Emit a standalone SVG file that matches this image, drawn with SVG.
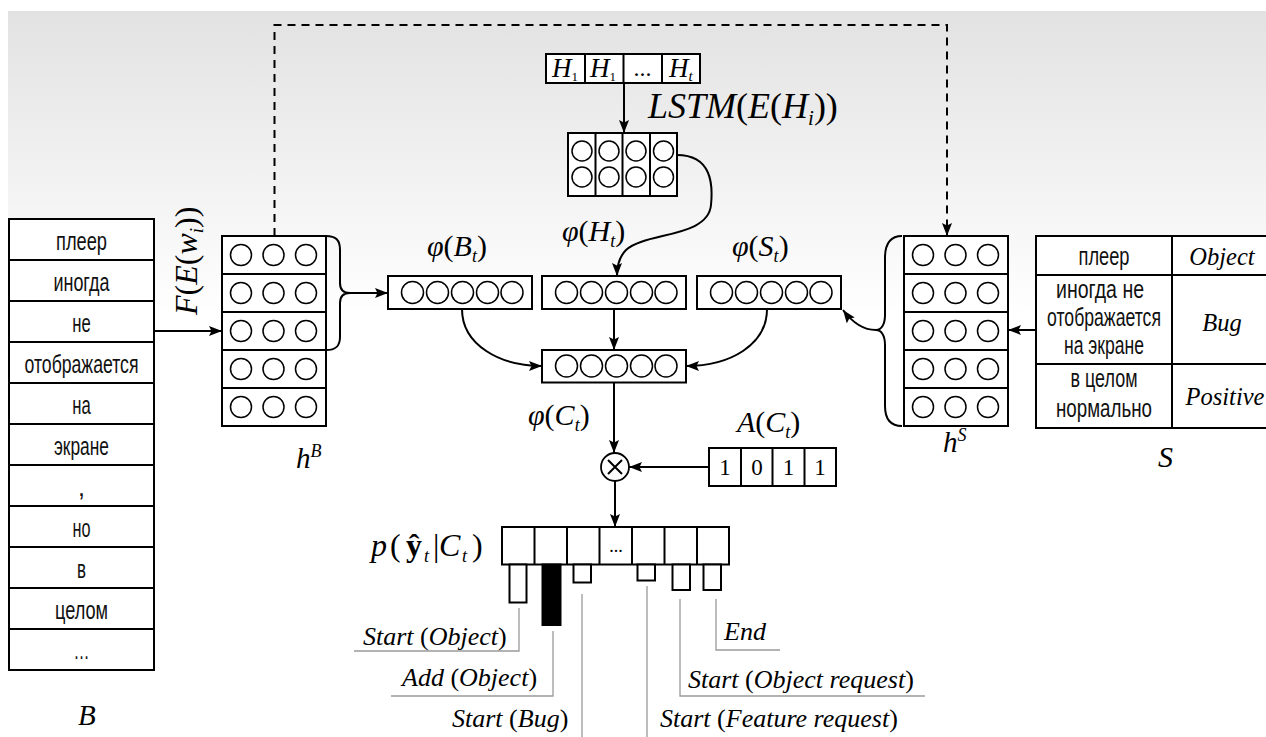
<svg xmlns="http://www.w3.org/2000/svg" width="1266" height="737" viewBox="0 0 1266 737">
<defs>
<linearGradient id="bg" x1="0" y1="0" x2="0" y2="1">
<stop offset="0" stop-color="#e2e2e2"/>
<stop offset="0.42" stop-color="#ffffff"/>
<stop offset="1" stop-color="#ffffff"/>
</linearGradient>
<marker id="ah" viewBox="0 0 13 10" refX="13" refY="5" markerWidth="13" markerHeight="10" markerUnits="userSpaceOnUse" orient="auto">
<path d="M0,0 L13,5 L0,10 L2.5,5 z" fill="#000"/>
</marker>
<style>
.box{fill:#fff;stroke:#000;stroke-width:2}
.ln{fill:none;stroke:#000;stroke-width:2}
.cir{fill:#fff;stroke:#000;stroke-width:1.5}
.con{fill:none;stroke:#000;stroke-width:2}
.lead{fill:none;stroke:#9a9a9a;stroke-width:1.3}
.cy{font-family:"Liberation Sans",Arial,sans-serif;font-size:25px;fill:#111;text-anchor:middle}
.m{font-family:"Liberation Serif","Times New Roman",serif;font-style:italic;fill:#000}
.r{font-style:normal}
</style>
</defs>
<rect x="8" y="11" width="1258" height="726" fill="url(#bg)"/>

<g id="connectors">
<path class="con" d="M154,331 H222" marker-end="url(#ah)"/>
<path class="con" d="M350,293 H388" marker-end="url(#ah)"/>
<path class="con" d="M624,83 V133" marker-end="url(#ah)"/>
<path class="con" d="M677,155 C712,155 713,185 711,205 C708,238 645,232 626,250 C619,257 617,265 617,276" marker-end="url(#ah)"/>
<path class="con" d="M614,309 V350" marker-end="url(#ah)"/>
<path class="con" d="M462,309 C462,345 500,366 542,366" marker-end="url(#ah)"/>
<path class="con" d="M767,309 C767,345 730,366 686,366" marker-end="url(#ah)"/>
<path class="con" d="M614,382 V453" marker-end="url(#ah)"/>
<path class="con" d="M709,467 H629" marker-end="url(#ah)"/>
<path class="con" d="M615,481 V527" marker-end="url(#ah)"/>
<path class="con" d="M876,330 C862,330 852,322 843,310" marker-end="url(#ah)"/>
<path class="con" d="M1036,330 H1008" marker-end="url(#ah)"/>
<path class="con" d="M274.5,236 V25 H947 V236" stroke-dasharray="8,6" marker-end="url(#ah)"/>
<path class="lead" d="M519,608 V651 H354"/>
<path class="lead" d="M553,631 V696 H391"/>
<path class="lead" d="M582,594 V737"/>
<path class="lead" d="M647,586 V737"/>
<path class="lead" d="M680,599 V696 H925"/>
<path class="lead" d="M716,599 V650 H780"/>
</g>

<g id="B-table">
<rect class="box" x="9" y="219" width="145" height="451"/>
<path class="ln" d="M9,260 H154 M9,301 H154 M9,342 H154 M9,383 H154 M9,424 H154 M9,465 H154 M9,506 H154 M9,547 H154 M9,588 H154 M9,629 H154"/>
<text class="cy" x="81.5" y="250" textLength="51" lengthAdjust="spacingAndGlyphs">плеер</text>
<text class="cy" x="81.5" y="291" textLength="56" lengthAdjust="spacingAndGlyphs">иногда</text>
<text class="cy" x="81.5" y="332" textLength="18.5" lengthAdjust="spacingAndGlyphs">не</text>
<text class="cy" x="81.5" y="373" textLength="114" lengthAdjust="spacingAndGlyphs">отображается</text>
<text class="cy" x="81.5" y="414" textLength="18.5" lengthAdjust="spacingAndGlyphs">на</text>
<text class="cy" x="81.5" y="455" textLength="55" lengthAdjust="spacingAndGlyphs">экране</text>
<text class="cy" x="81.5" y="496">,</text>
<text class="cy" x="81.5" y="537" textLength="18" lengthAdjust="spacingAndGlyphs">но</text>
<text class="cy" x="81.5" y="578" textLength="9" lengthAdjust="spacingAndGlyphs">в</text>
<text class="cy" x="81.5" y="619" textLength="53" lengthAdjust="spacingAndGlyphs">целом</text>
<text class="cy" x="81.5" y="659" textLength="16" lengthAdjust="spacingAndGlyphs">…</text>
<text class="m" x="78" y="725" font-size="29">B</text>
</g>

<text class="m" font-size="32" transform="translate(197,315) rotate(-90)">F<tspan class="r">(</tspan>E<tspan class="r">(</tspan>w<tspan font-size="19" dy="6">i</tspan><tspan class="r" dy="-6">))</tspan></text>

<g id="hB">
<rect class="box" x="222" y="236" width="104" height="190"/>
<path class="ln" d="M222,274 H326 M222,312 H326 M222,350 H326 M222,388 H326"/>
<g class="cir">
<circle cx="241" cy="255" r="10.5"/><circle cx="273.5" cy="255" r="10.5"/><circle cx="306" cy="255" r="10.5"/>
<circle cx="241" cy="293" r="10.5"/><circle cx="273.5" cy="293" r="10.5"/><circle cx="306" cy="293" r="10.5"/>
<circle cx="241" cy="331" r="10.5"/><circle cx="273.5" cy="331" r="10.5"/><circle cx="306" cy="331" r="10.5"/>
<circle cx="241" cy="369" r="10.5"/><circle cx="273.5" cy="369" r="10.5"/><circle cx="306" cy="369" r="10.5"/>
<circle cx="241" cy="407" r="10.5"/><circle cx="273.5" cy="407" r="10.5"/><circle cx="306" cy="407" r="10.5"/>
</g>
<path class="ln" d="M326,236 C336,236 340,240 340,250 L340,283 C340,290 344,293 350,293 C344,293 340,296 340,303 L340,337 C340,346 336,350 326,350"/>
<text class="m" x="296" y="468" font-size="29">h<tspan font-size="18" dy="-11">B</tspan></text>
</g>

<g id="H-seq">
<rect class="box" x="546" y="54" width="154" height="29"/>
<path class="ln" d="M585,54 V83 M623.5,54 V83 M662,54 V83"/>
<text class="m" x="552" y="77" font-size="27">H<tspan class="r" font-size="13" dy="4">1</tspan></text>
<text class="m" x="590" y="77" font-size="27">H<tspan class="r" font-size="13" dy="4">1</tspan></text>
<text class="m r" x="642.5" y="76" font-size="24" text-anchor="middle">...</text>
<text class="m" x="669" y="77" font-size="27">H<tspan font-size="15" dy="4">t</tspan></text>
</g>

<g id="LSTM">
<rect class="box" x="568" y="133" width="109" height="63"/>
<path class="ln" d="M595.5,133 V196 M622.5,133 V196 M650,133 V196"/>
<g class="cir">
<circle cx="582" cy="151" r="10"/><circle cx="609" cy="151" r="10"/><circle cx="636" cy="151" r="10"/><circle cx="663.5" cy="151" r="10"/>
<circle cx="582" cy="177" r="10"/><circle cx="609" cy="177" r="10"/><circle cx="636" cy="177" r="10"/><circle cx="663.5" cy="177" r="10"/>
</g>
<text class="m" x="648" y="118" font-size="36">LSTM<tspan class="r">(</tspan>E<tspan class="r">(</tspan>H<tspan font-size="21" dy="7">i</tspan><tspan class="r" dy="-7">))</tspan></text>
</g>

<g id="phiB">
<rect class="box" x="388" y="276" width="144" height="33"/>
<g class="cir"><circle cx="412.5" cy="292.5" r="11"/><circle cx="437.5" cy="292.5" r="11"/><circle cx="462.5" cy="292.5" r="11"/><circle cx="487.5" cy="292.5" r="11"/><circle cx="512" cy="292.5" r="11"/></g>
<text class="m" x="427" y="256" font-size="30">φ<tspan class="r">(</tspan>B<tspan font-size="18" dy="6">t</tspan><tspan class="r" dy="-6">)</tspan></text>
</g>

<g id="phiH">
<rect class="box" x="542" y="276" width="144" height="33"/>
<g class="cir"><circle cx="566.5" cy="292.5" r="11"/><circle cx="591.5" cy="292.5" r="11"/><circle cx="616.5" cy="292.5" r="11"/><circle cx="641.5" cy="292.5" r="11"/><circle cx="666" cy="292.5" r="11"/></g>
<text class="m" x="562" y="241" font-size="30">φ<tspan class="r">(</tspan>H<tspan font-size="18" dy="6">t</tspan><tspan class="r" dy="-6">)</tspan></text>
</g>

<g id="phiS">
<rect class="box" x="697" y="276" width="144" height="33"/>
<g class="cir"><circle cx="721.5" cy="292.5" r="11"/><circle cx="746.5" cy="292.5" r="11"/><circle cx="771.5" cy="292.5" r="11"/><circle cx="796.5" cy="292.5" r="11"/><circle cx="821" cy="292.5" r="11"/></g>
<text class="m" x="732" y="256" font-size="30">φ<tspan class="r">(</tspan>S<tspan font-size="18" dy="6">t</tspan><tspan class="r" dy="-6">)</tspan></text>
</g>

<g id="phiC">
<rect class="box" x="542" y="350" width="144" height="32.5"/>
<g class="cir"><circle cx="566.5" cy="366" r="11"/><circle cx="591.5" cy="366" r="11"/><circle cx="616.5" cy="366" r="11"/><circle cx="641.5" cy="366" r="11"/><circle cx="666" cy="366" r="11"/></g>
<text class="m" x="528" y="425" font-size="30">φ<tspan class="r">(</tspan>C<tspan font-size="18" dy="6">t</tspan><tspan class="r" dy="-6">)</tspan></text>
</g>

<g id="mult">
<circle cx="615" cy="467" r="14" fill="#fff" stroke="#000" stroke-width="1.8"/>
<path class="ln" stroke-width="1.5" d="M608,460 L622,474 M622,460 L608,474"/>
</g>

<g id="A">
<rect class="box" x="709" y="448" width="127" height="38"/>
<path class="ln" d="M741,448 V486 M772.5,448 V486 M804.5,448 V486"/>
<g class="m r" font-size="23" text-anchor="middle">
<text x="725" y="475">1</text><text x="757" y="475">0</text><text x="788.5" y="475">1</text><text x="820" y="475">1</text>
</g>
<text class="m" x="737" y="432" font-size="30">A<tspan class="r">(</tspan>C<tspan font-size="18" dy="6">t</tspan><tspan class="r" dy="-6">)</tspan></text>
</g>

<g id="output">
<rect class="box" x="502" y="527" width="227" height="37.5"/>
<path class="ln" d="M534.5,527 V564.5 M567,527 V564.5 M599.5,527 V564.5 M632,527 V564.5 M664.5,527 V564.5 M697,527 V564.5"/>
<text class="m r" x="616" y="552" font-size="18" text-anchor="middle">...</text>
<rect class="box" x="509.5" y="564.5" width="17" height="38"/>
<rect x="542.5" y="564.5" width="18" height="60.5" fill="#000" stroke="#000" stroke-width="2"/>
<rect class="box" x="573.5" y="564.5" width="17.5" height="18"/>
<rect class="box" x="637.5" y="564.5" width="17.5" height="16"/>
<rect class="box" x="672.5" y="564.5" width="17.5" height="25.5"/>
<rect class="box" x="703.5" y="564.5" width="17.5" height="25.5"/>
<text class="m" y="556" font-size="32"><tspan x="371">p</tspan><tspan class="r" x="390">(</tspan><tspan class="r" font-weight="bold" x="406">ŷ</tspan><tspan font-size="18" x="424" dy="6">t</tspan><tspan class="r" x="433" dy="-6">|</tspan><tspan x="439">C</tspan><tspan font-size="18" x="462" dy="6">t</tspan><tspan class="r" x="472" dy="-6">)</tspan></text>
</g>

<g id="labels" class="m" font-size="26">
<text x="363" y="645">Start <tspan class="r">(</tspan>Object<tspan class="r">)</tspan></text>
<text x="402" y="686">Add <tspan class="r">(</tspan>Object<tspan class="r">)</tspan></text>
<text x="452" y="727">Start <tspan class="r">(</tspan>Bug<tspan class="r">)</tspan></text>
<text x="660" y="727">Start <tspan class="r">(</tspan>Feature request<tspan class="r">)</tspan></text>
<text x="688" y="688">Start <tspan class="r">(</tspan>Object request<tspan class="r">)</tspan></text>
<text x="724" y="640">End</text>
</g>

<g id="hS">
<rect class="box" x="904" y="236" width="104" height="190"/>
<path class="ln" d="M904,274 H1008 M904,312 H1008 M904,350 H1008 M904,388 H1008"/>
<g class="cir">
<circle cx="923" cy="255" r="10.5"/><circle cx="955.5" cy="255" r="10.5"/><circle cx="988" cy="255" r="10.5"/>
<circle cx="923" cy="293" r="10.5"/><circle cx="955.5" cy="293" r="10.5"/><circle cx="988" cy="293" r="10.5"/>
<circle cx="923" cy="331" r="10.5"/><circle cx="955.5" cy="331" r="10.5"/><circle cx="988" cy="331" r="10.5"/>
<circle cx="923" cy="369" r="10.5"/><circle cx="955.5" cy="369" r="10.5"/><circle cx="988" cy="369" r="10.5"/>
<circle cx="923" cy="407" r="10.5"/><circle cx="955.5" cy="407" r="10.5"/><circle cx="988" cy="407" r="10.5"/>
</g>
<path class="ln" d="M902,236 C890,236 885,245 885,258 L885,315 C885,325 881,330 876,330 C881,330 885,335 885,345 L885,406 C885,419 890,426 902,426"/>
<text class="m" x="943" y="452" font-size="29">h<tspan font-size="18" dy="-11">S</tspan></text>
</g>

<g id="S-table">
<rect class="box" x="1036" y="236" width="250" height="192"/>
<path class="ln" d="M1172,236 V428 M1036,275 H1286 M1036,364 H1286"/>
<text class="cy" x="1104" y="265" textLength="51" lengthAdjust="spacingAndGlyphs">плеер</text>
<text class="cy" x="1100" y="298" textLength="88" lengthAdjust="spacingAndGlyphs">иногда не</text>
<text class="cy" x="1104" y="326" textLength="114" lengthAdjust="spacingAndGlyphs">отображается</text>
<text class="cy" x="1104" y="354" textLength="80" lengthAdjust="spacingAndGlyphs">на экране</text>
<text class="cy" x="1104" y="387" textLength="67" lengthAdjust="spacingAndGlyphs">в целом</text>
<text class="cy" x="1104" y="417" textLength="96" lengthAdjust="spacingAndGlyphs">нормально</text>
<g class="m" font-size="24.5" text-anchor="middle">
<text x="1222" y="265">Object</text>
<text x="1222" y="331">Bug</text>
<text x="1225" y="405">Positive</text>
</g>
<text class="m" x="1158" y="467" font-size="30">S</text>
</g>
</svg>
